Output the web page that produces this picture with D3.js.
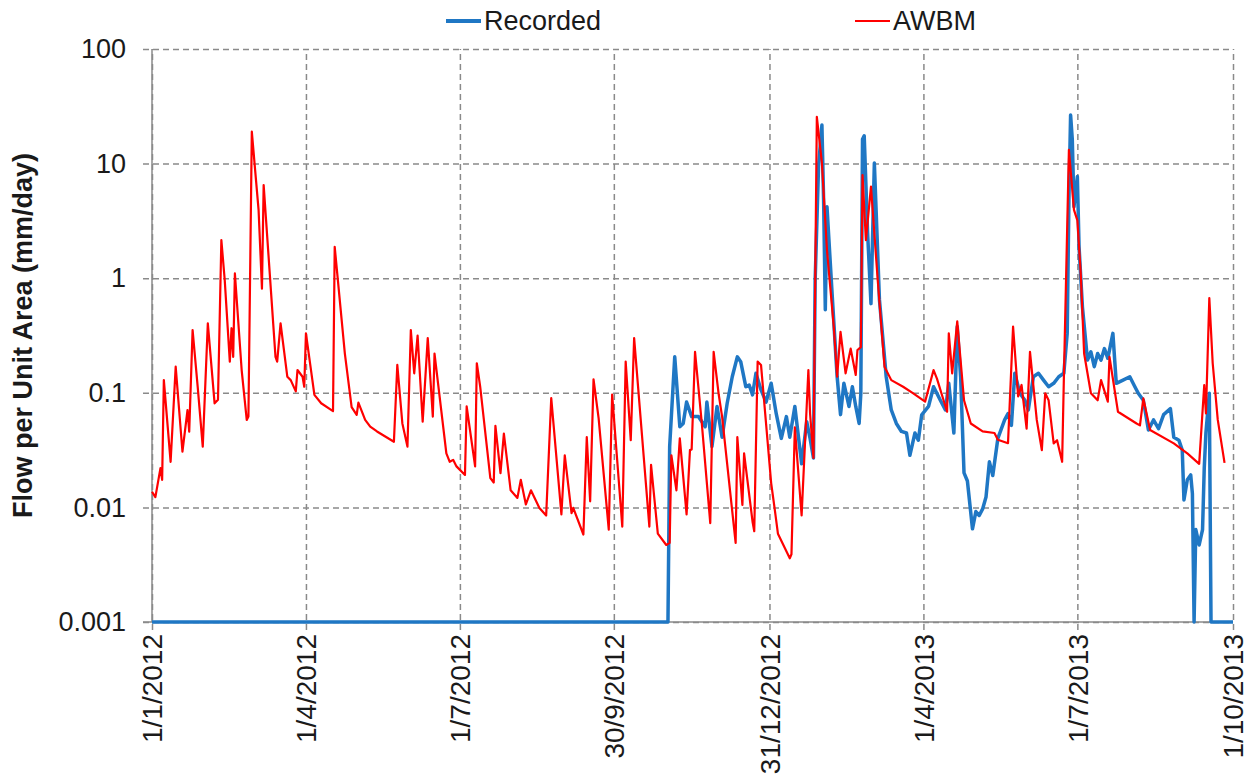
<!DOCTYPE html>
<html>
<head>
<meta charset="utf-8">
<script src="https://cdn.jsdelivr.net/npm/d3@7/dist/d3.min.js"></script>
<style>
  html, body { margin: 0; padding: 0; background: #fff; }
  svg { display: block; font-family: "Liberation Sans", Arial, sans-serif; }
</style>
</head>
<body>
<svg id="chart" width="1250" height="776"></svg>
<script>
// Daily flow per unit area, days counted from 1 Jan 2012
const awbmDays = [0,2,5,6,7,11,14,18,21,22,24,27,30,33,37,39,41,43,46,47,48,49,53,56,57,59,63,65,66,73,74,76,80,82,85,86,89,90,91,96,100,107,108,114,118,121,122,126,129,133,143,145,148,151,153,155,157,160,163,166,167,174,176,178,180,185,186,191,192,194,200,202,203,206,208,212,216,218,221,224,229,233,236,242,244,248,249,255,257,259,261,264,270,272,278,280,283,285,294,295,299,304,306,307,310,312,316,318,319,321,325,330,332,335,337,345,346,349,350,355,356,358,360,366,368,370,377,378,380,384,388,389,391,392,393,396,399,403,405,407,410,413,416,417,419,420,422,425,429,433,437,444,450,457,462,464,470,471,473,476,480,484,491,498,500,506,509,512,514,517,519,523,526,528,530,533,535,538,539,542,545,547,549,551,555,559,561,565,566,571,582,584,586,590,604,612,619,622,623,625,627,630,634];
const awbmFlow = [0.0137,0.0123,0.022,0.0174,0.129,0.025,0.169,0.0306,0.0708,0.0458,0.353,0.113,0.0339,0.404,0.081,0.087,2.15,0.96,0.187,0.366,0.206,1.10,0.158,0.058,0.062,19,3.94,0.81,6.5,0.206,0.187,0.404,0.138,0.129,0.103,0.158,0.138,0.113,0.33,0.096,0.081,0.0693,1.88,0.22,0.075,0.0642,0.082,0.058,0.0506,0.046,0.0374,0.175,0.054,0.0339,0.353,0.148,0.316,0.056,0.30,0.062,0.22,0.0296,0.025,0.026,0.0228,0.0192,0.076,0.0228,0.181,0.113,0.018,0.0165,0.0515,0.0199,0.044,0.0141,0.0121,0.0174,0.0106,0.0141,0.0099,0.0085,0.090,0.0087,0.0285,0.0089,0.0099,0.0058,0.041,0.0113,0.131,0.06,0.0064,0.0966,0.0068,0.187,0.0386,0.30,0.0068,0.0235,0.0059,0.0047,0.0049,0.0285,0.0141,0.040,0.0087,0.0316,0.032,0.228,0.054,0.0073,0.228,0.0966,0.062,0.0049,0.041,0.0105,0.0296,0.0075,0.0062,0.187,0.175,0.0163,0.0099,0.0059,0.0036,0.0039,0.05,0.0085,0.158,0.066,0.027,0.84,25.6,10.1,1.75,0.378,0.138,0.34,0.148,0.243,0.143,0.236,0.25,7.95,2.15,6.3,0.96,0.169,0.129,0.113,0.099,0.0838,0.158,0.133,0.0683,0.33,0.148,0.42,0.086,0.054,0.046,0.0446,0.039,0.0363,0.378,0.0928,0.117,0.0486,0.228,0.058,0.0316,0.099,0.086,0.0362,0.0386,0.025,0.129,13.2,3.94,3.2,1.1,0.22,0.099,0.086,0.129,0.0838,0.206,0.0683,0.054,0.052,0.0893,0.0473,0.0362,0.0296,0.024,0.117,0.066,0.67,0.181,0.058,0.0245];

const recordedDays = [0,305,306,309,312,314,316,319,323,327,328,331,334,337,340,343,346,348,351,353,355,357,360,363,366,369,372,375,377,380,384,387,389,391,392,394,396,397,398,399,402,405,407,409,412,414,416,418,419,420,421,423,425,427,430,434,437,440,443,446,448,451,453,455,459,462,466,469,471,474,476,478,480,482,485,487,489,491,493,495,497,500,504,506,508,510,513,516,518,521,524,527,530,533,536,539,541,542,543,544,545,547,548,550,553,555,557,559,561,563,565,568,570,574,578,581,583,586,589,592,595,598,602,604,607,609,610,612,614,615,616,617,619,621,622,623,625,626,639];
const recordedFlow = [0.001,0.001,0.034,0.206,0.0506,0.054,0.083,0.062,0.062,0.0506,0.083,0.034,0.076,0.041,0.081,0.138,0.206,0.187,0.113,0.117,0.096,0.148,0.106,0.083,0.121,0.0657,0.040,0.062,0.041,0.076,0.024,0.056,0.04,0.027,0.96,9.4,21.7,4.8,0.53,4.2,0.74,0.138,0.0645,0.121,0.076,0.113,0.076,0.054,0.099,16.3,17.5,2.5,0.6,10.1,0.65,0.138,0.0708,0.054,0.046,0.0446,0.0285,0.0446,0.0386,0.0642,0.076,0.113,0.086,0.0708,0.121,0.0446,0.378,0.138,0.02,0.017,0.0065,0.0092,0.0085,0.0097,0.0123,0.025,0.019,0.04,0.058,0.0657,0.052,0.148,0.099,0.086,0.0708,0.138,0.148,0.129,0.113,0.121,0.138,0.148,0.33,4.8,26.5,16.3,4.2,7.7,1.88,0.56,0.193,0.228,0.169,0.22,0.193,0.243,0.2,0.33,0.121,0.129,0.138,0.113,0.099,0.086,0.0473,0.058,0.0486,0.0645,0.0727,0.041,0.0386,0.0316,0.0116,0.0174,0.0192,0.0132,0.001,0.0064,0.0047,0.0064,0.0219,0.045,0.099,0.001,0.001];

const xTickLabels = ["1/1/2012","1/4/2012","1/7/2012","30/9/2012","31/12/2012","1/4/2013","1/7/2013","1/10/2013"];
const yTickValues = [0.001, 0.01, 0.1, 1, 10, 100];
const yTickLabels = ["0.001","0.01","0.1","1","10","100"];
const seriesNames = ["Recorded", "AWBM"];
const seriesColors = ["#1f77c4", "#ff0000"];

const start = Date.UTC(2012, 0, 1);
const dayMs = 86400000;
const toDate = d => new Date(start + d * dayMs);
const parseLabel = s => { const [d, m, y] = s.split("/").map(Number); return new Date(Date.UTC(y, m - 1, d)); };

const margin = { left: 152, right: 17, top: 49, bottom: 154 };
const W = 1250, H = 776;
const x = d3.scaleUtc().domain([toDate(0), parseLabel("1/10/2013")]).range([margin.left, W - margin.right]);
const y = d3.scaleLog().domain([0.001, 100]).range([H - margin.bottom, margin.top]);

const svg = d3.select("#chart");
const gridColor = "#8a8a8a";
const textColor = "#1a1a1a";

// horizontal gridlines + left ticks
const yAxis = d3.axisLeft(y).tickValues(yTickValues).tickFormat((d, i) => yTickLabels[i])
  .tickSize(-(x.range()[1] - x.range()[0])).tickSizeOuter(0).tickPadding(26);
const gy = svg.append("g").attr("transform", `translate(${margin.left},0)`).call(yAxis);
gy.select(".domain").remove();
gy.selectAll(".tick line").attr("x1", -9).attr("stroke", gridColor).attr("stroke-width", 1.5).attr("stroke-dasharray", "6,4");
gy.selectAll(".tick text").attr("font-size", "27px").attr("fill", textColor).attr("font-family", "Liberation Sans, Arial, sans-serif");

// vertical gridlines + bottom ticks
const xTickDates = xTickLabels.map(parseLabel);
const xAxis = d3.axisBottom(x).tickValues(xTickDates).tickFormat((d, i) => xTickLabels[i])
  .tickSize(-(y.range()[0] - y.range()[1])).tickSizeOuter(0);
const gx = svg.append("g").attr("transform", `translate(0,${y.range()[0]})`).call(xAxis);
gx.select(".domain").remove();
gx.selectAll(".tick line").attr("y1", 8).attr("stroke", gridColor).attr("stroke-width", 1.5).attr("stroke-dasharray", "6,4");
gx.selectAll(".tick text")
  .attr("font-size", "28px").attr("fill", textColor).attr("font-family", "Liberation Sans, Arial, sans-serif")
  .attr("text-anchor", "end").attr("dy", "0.35em")
  .attr("transform", "translate(0,12) rotate(-90)").attr("x", 0).attr("y", 0);

// solid axis lines
svg.append("line").attr("x1", margin.left).attr("x2", margin.left).attr("y1", y(100)).attr("y2", y(0.001))
  .attr("stroke", gridColor).attr("stroke-width", 1.5);
svg.append("line").attr("x1", margin.left - 9).attr("x2", x.range()[1]).attr("y1", y(0.001)).attr("y2", y(0.001))
  .attr("stroke", gridColor).attr("stroke-width", 1.5);

// series: recorded underneath, model on top
const line = d3.line().x(d => x(toDate(d[0]))).y(d => y(d[1]));
const recorded = recordedDays.map((d, i) => [d, recordedFlow[i]]);
const awbm = awbmDays.map((d, i) => [d, awbmFlow[i]]);
svg.append("path").datum(recorded).attr("d", line).attr("fill", "none")
  .attr("stroke", seriesColors[0]).attr("stroke-width", 3.5).attr("stroke-linejoin", "round");
svg.append("path").datum(awbm).attr("d", line).attr("fill", "none")
  .attr("stroke", seriesColors[1]).attr("stroke-width", 2.2).attr("stroke-linejoin", "round");

// y-axis title
svg.append("text").attr("transform", `translate(32,${(y.range()[0] + y.range()[1]) / 2}) rotate(-90)`)
  .attr("text-anchor", "middle").attr("font-size", "27px").attr("font-weight", "bold").attr("fill", textColor)
  .text("Flow per Unit Area (mm/day)");

// legend
const legendX = [446, 855];
seriesNames.forEach((name, i) => {
  const g = svg.append("g").attr("transform", `translate(${legendX[i]},21)`);
  g.append("line").attr("x1", 0).attr("x2", 35).attr("y1", 0).attr("y2", 0)
    .attr("stroke", seriesColors[i]).attr("stroke-width", i === 0 ? 4 : 2);
  g.append("text").attr("x", 38).attr("y", 0).attr("dy", "0.35em").attr("font-size", "27px").attr("fill", textColor).text(name);
});
</script>
</body>
</html>
